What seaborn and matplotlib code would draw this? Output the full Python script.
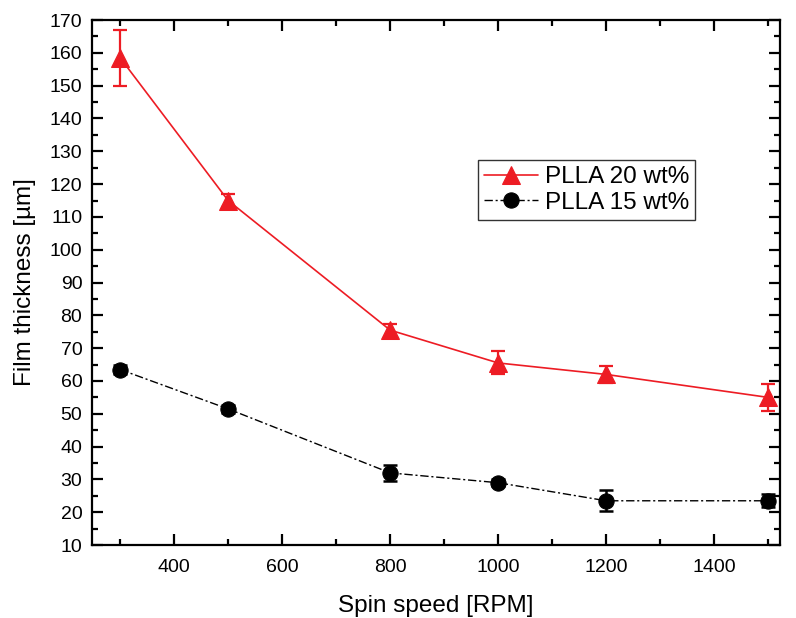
import matplotlib
matplotlib.use("Agg")
import matplotlib.pyplot as plt
import seaborn as sns
import pandas as pd
from matplotlib.ticker import MultipleLocator

speed = [300, 500, 800, 1000, 1200, 1500]
pl20 = [158.5, 115.0, 75.5, 65.5, 62.0, 55.0]
pl20_err = [8.5, 2.0, 2.0, 3.5, 2.5, 4.0]
pl15 = [63.5, 51.5, 32.0, 29.0, 23.5, 23.5]
pl15_err = [1.5, 1.2, 2.5, 1.0, 3.2, 2.0]

sns.set_style("ticks")
plt.rcParams['font.family'] = ['Liberation Sans', 'DejaVu Sans']
plt.rcParams['text.color'] = 'black'
plt.rcParams['axes.labelcolor'] = 'black'
plt.rcParams['xtick.color'] = 'black'
plt.rcParams['ytick.color'] = 'black'

fig = plt.figure(figsize=(7.96, 6.18), dpi=100)
ax = fig.add_axes([0.1156, 0.118, 0.8644, 0.8496])

red = '#ed1c24'
df20 = pd.DataFrame({'x': speed, 'y': pl20})
df15 = pd.DataFrame({'x': speed, 'y': pl15})

ax.errorbar(speed, pl20, yerr=pl20_err, fmt='none', ecolor=red, elinewidth=1.6, capsize=5, capthick=1.6, zorder=2)
ax.errorbar(speed, pl15, yerr=pl15_err, fmt='none', ecolor='black', elinewidth=1.8, capsize=5, capthick=1.8, zorder=2)

sns.lineplot(data=df20, x='x', y='y', ax=ax, color=red, marker='^', markersize=13,
             markeredgecolor=red, linewidth=1.2, label='PLLA 20 wt%', zorder=3)
sns.lineplot(data=df15, x='x', y='y', ax=ax, color='black', marker='o', markersize=11,
             markeredgecolor='black', linewidth=1.0, linestyle=(0, (6, 2, 1.5, 2)), label='PLLA 15 wt%', zorder=3)

ax.set_xlim(248, 1522)
ax.set_ylim(10, 170)
ax.xaxis.set_major_locator(MultipleLocator(200))
ax.xaxis.set_minor_locator(MultipleLocator(100))
ax.yaxis.set_major_locator(MultipleLocator(10))
ax.yaxis.set_minor_locator(MultipleLocator(5))
ax.tick_params(which='both', direction='in', top=True, right=True, width=1.6, labelsize=14, colors='black')
ax.tick_params(which='major', length=8, pad=7)
ax.tick_params(axis='x', which='major', pad=10)
ax.tick_params(which='minor', length=4.5)
for s in ax.spines.values():
    s.set_linewidth(1.6)
    s.set_color('black')

ax.set_xlabel('Spin speed [RPM]', fontsize=17.5, labelpad=14, color='black')
ax.set_ylabel('Film thickness [µm]', fontsize=17.5, labelpad=10, color='black')

leg = ax.legend(loc='upper left', bbox_to_anchor=(0.561, 0.733), fontsize=17.5, frameon=True,
                fancybox=False, edgecolor='black', handlelength=2.2, borderpad=0.25,
                labelspacing=0.15, handletextpad=0.3, borderaxespad=0)
leg.get_frame().set_linewidth(1.0)
for t in leg.get_texts():
    t.set_color('black')

fig.savefig('out.png', dpi=100)
